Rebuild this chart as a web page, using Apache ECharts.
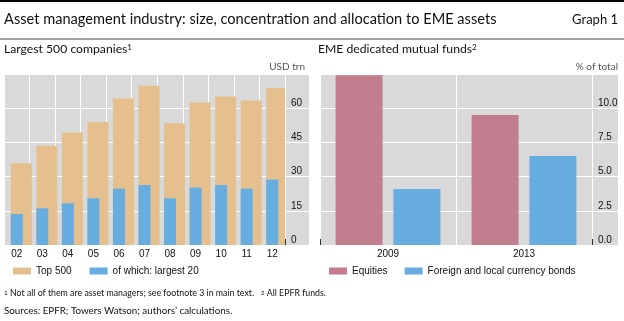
<!DOCTYPE html>
<html>
<head>
<meta charset="utf-8">
<script src="https://cdn.jsdelivr.net/npm/echarts@6/dist/echarts.min.js"></script>
<style>
  html, body { margin: 0; padding: 0; background: #fff; }
  #chart { width: 624px; height: 321px; }
</style>
</head>
<body>
<div id="chart"></div>
<script>
// Largest 500 asset managers, USD trn
const years = ['02', '03', '04', '05', '06', '07', '08', '09', '10', '11', '12'];
const top500 = [35.9, 43.5, 49.3, 54.0, 64.2, 69.8, 53.4, 62.5, 65.1, 63.4, 68.9];
const largest20 = [13.6, 16.1, 18.3, 20.5, 24.7, 26.3, 20.5, 25.2, 26.3, 24.7, 28.7];
const leftTicks = { min: 0, max: 75, interval: 15 };

// EME dedicated mutual funds, % of total
const fundYears = ['2009', '2013'];
const equities = [12.4, 9.5];
const bonds = [4.1, 6.5];
const rightTicks = { min: 0, max: 12.5, interval: 2.5 };

const C = {
  tan: '#e5c08e',
  blue: '#67ade0',
  pink: '#c27d8f',
  panel: '#d9d9d9',
  tick: '#333'
};
const SANS = '"Liberation Sans", Arial, sans-serif';
const HUM = 'Lato, "Open Sans", sans-serif';

const chart = echarts.init(document.getElementById('chart'), null, { renderer: 'canvas' });

const whiteLine = { show: true, lineStyle: { color: '#fff', width: 1 } };

function catAxis(gridIndex, data, showLabels) {
  return {
    type: 'category', gridIndex, data,
    axisLine: { show: false },
    axisTick: showLabels ? {
      show: true, inside: true, length: 6,
      interval: (i) => i > 0,
      lineStyle: { color: C.tick, width: 1 }
    } : { show: false },
    axisLabel: showLabels ? { show: true, color: '#111', fontFamily: SANS, fontSize: 10, margin: 4 } : { show: false },
    splitLine: whiteLine
  };
}

function valAxis(gridIndex, t, showLabels, fmt) {
  return {
    type: 'value', gridIndex, position: 'right',
    min: t.min, max: t.max, interval: t.interval,
    axisLine: { show: false }, axisTick: { show: false },
    axisLabel: showLabels ? {
      show: true, color: '#111', fontFamily: SANS, fontSize: 10,
      margin: 6, verticalAlign: 'bottom', showMaxLabel: false,
      formatter: fmt
    } : { show: false },
    splitLine: whiteLine
  };
}

// each panel = plot grid + a grey strip holding the value labels
function panelGrid(left, width) {
  return { left, top: 74, width, height: 171, show: true, backgroundColor: C.panel, borderWidth: 0 };
}

const legendText = { fontFamily: SANS, fontSize: 10, color: '#111' };

const option = {
  animation: false,
  backgroundColor: '#fff',
  grid: [
    panelGrid(4, 281),
    panelGrid(285, 24),
    panelGrid(320, 272),
    panelGrid(592, 26)
  ],
  xAxis: [
    catAxis(0, years, true),
    catAxis(1, [''], false),
    catAxis(2, fundYears, true),
    catAxis(3, [''], false)
  ],
  yAxis: [
    valAxis(0, leftTicks, true, (v) => String(v)),
    valAxis(1, leftTicks, false),
    valAxis(2, rightTicks, true, (v) => v.toFixed(1)),
    valAxis(3, rightTicks, false)
  ],
  legend: [
    {
      left: 13, top: 266, padding: 0, itemWidth: 18, itemHeight: 7, itemGap: 18,
      icon: 'rect', data: ['Top 500', 'of which: largest 20'], textStyle: legendText
    },
    {
      left: 329, top: 266, padding: 0, itemWidth: 18, itemHeight: 7, itemGap: 17,
      icon: 'rect', data: ['Equities', 'Foreign and local currency bonds'], textStyle: legendText
    }
  ],
  series: [
    { name: 'Top 500', type: 'bar', xAxisIndex: 0, yAxisIndex: 0, data: top500,
      barWidth: 21, barGap: '-100%', itemStyle: { color: C.tan }, z: 2 },
    { name: 'of which: largest 20', type: 'bar', xAxisIndex: 0, yAxisIndex: 0, data: largest20,
      barWidth: 12, barGap: '-100%', itemStyle: { color: C.blue }, z: 3 },
    { name: 'Equities', type: 'bar', xAxisIndex: 2, yAxisIndex: 2, data: equities,
      barWidth: 47, barGap: '23%', itemStyle: { color: C.pink } },
    { name: 'Foreign and local currency bonds', type: 'bar', xAxisIndex: 2, yAxisIndex: 2, data: bonds,
      barWidth: 47, barGap: '23%', itemStyle: { color: C.blue } }
  ],
  graphic: [
    // header rules
    { type: 'rect', silent: true, shape: { x: 0, y: 0, width: 624, height: 2 }, style: { fill: '#000' } },
    { type: 'rect', silent: true, shape: { x: 0, y: 38.5, width: 624, height: 1 }, style: { fill: '#444' } },
    { type: 'text', left: 4, top: 12, style: {
      text: 'Asset management industry: size, concentration and allocation to EME assets',
      font: '14.6px ' + HUM, fill: '#111' } },
    { type: 'text', right: 6, top: 13, style: { text: 'Graph 1', font: '13px ' + HUM, fill: '#111' } },
    { type: 'text', left: 4, top: 43, style: {
      text: '{a|Largest 500 companies}{s|1}',
      rich: { a: { font: '12.2px ' + HUM, fill: '#111' }, s: { font: '8px ' + HUM, fill: '#111', verticalAlign: 'top' } } } },
    { type: 'text', left: 318, top: 43, style: {
      text: '{a|EME dedicated mutual funds}{s|2}',
      rich: { a: { font: '12.2px ' + HUM, fill: '#111' }, s: { font: '8px ' + HUM, fill: '#111', verticalAlign: 'top' } } } },
    { type: 'text', right: 319, top: 62, style: { text: 'USD trn', font: '10px ' + HUM, fill: '#555' } },
    { type: 'text', right: 6, top: 62, style: { text: '% of total', font: '10px ' + HUM, fill: '#555' } },
    { type: 'text', left: 4, top: 289, style: {
      text: '{s|1}{a| Not all of them are asset managers; see footnote 3 in main text.   }{s|2}{a| All EPFR funds.}',
      rich: { a: { font: '8.8px ' + HUM, fill: '#111' }, s: { font: '6.5px ' + HUM, fill: '#111', verticalAlign: 'top' } } } },
    { type: 'text', left: 4, top: 306, style: {
      text: 'Sources: EPFR; Towers Watson; authors\u2019 calculations.',
      font: '9.8px ' + HUM, fill: '#111' } }
  ]
};

chart.setOption(option);
</script>
</body>
</html>
